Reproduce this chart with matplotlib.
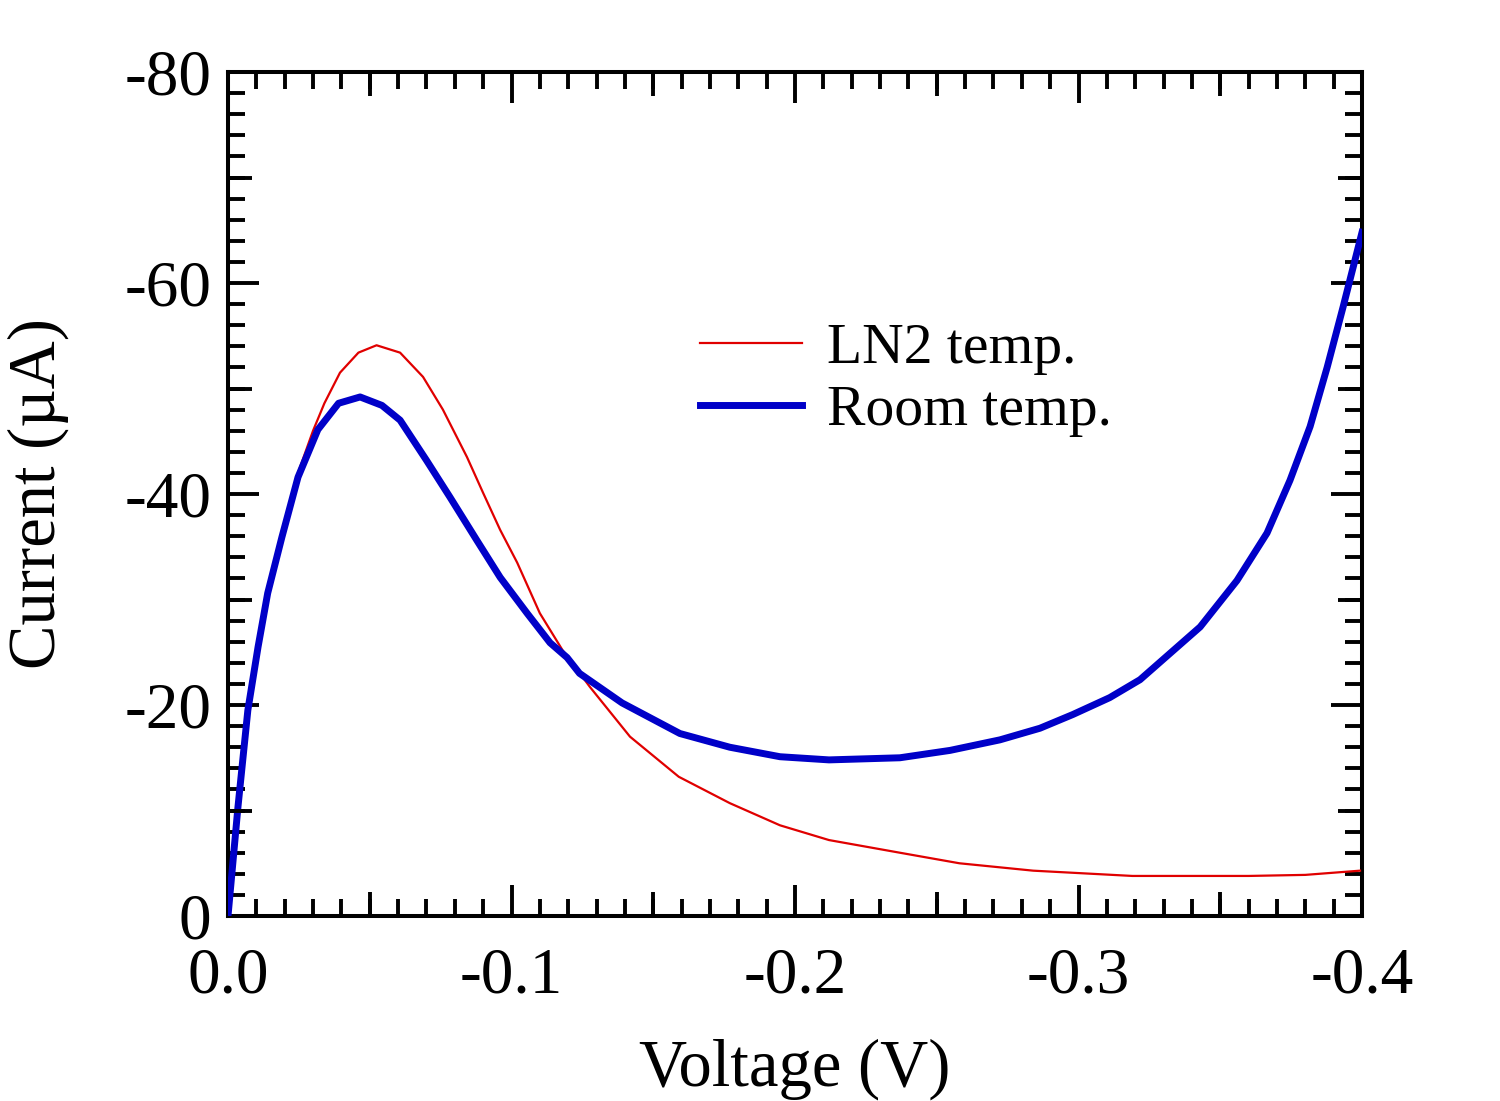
# I-V curves of the tunnel diode at two temperatures

import numpy as np
import matplotlib.pyplot as plt

plt.rcParams['font.family'] = ['Liberation Serif', 'DejaVu Serif']
plt.rcParams['axes.unicode_minus'] = False

# values
v_ln2 = [0.0, -0.0035, -0.007, -0.0106, -0.014, -0.019, -0.0247, -0.030, -0.034,
         -0.0395, -0.046, -0.0524, -0.0607, -0.0688, -0.0758, -0.0843, -0.090,
         -0.096, -0.102, -0.110, -0.118, -0.1277, -0.1418, -0.159, -0.177,
         -0.1947, -0.212, -0.237, -0.258, -0.284, -0.319, -0.360, -0.380, -0.3993]
i_ln2 = [0.0, -9.5, -19.0, -25.0, -30.5, -36.0, -42.0, -46.0, -48.6,
         -51.5, -53.4, -54.1, -53.4, -51.1, -48.0, -43.5, -40.1,
         -36.6, -33.5, -28.7, -25.2, -21.7, -17.0, -13.2, -10.7,
         -8.6, -7.2, -6.0, -5.0, -4.3, -3.8, -3.8, -3.9, -4.3]

v_room = [0.0, -0.0035, -0.007, -0.0106, -0.014, -0.019, -0.0247, -0.0317,
          -0.039, -0.0466, -0.0543, -0.0607, -0.070, -0.0783, -0.0878, -0.096,
          -0.1055, -0.1136, -0.1196, -0.124, -0.139, -0.1594, -0.177, -0.1947,
          -0.212, -0.237, -0.2547, -0.2723, -0.2864, -0.298, -0.311, -0.3217,
          -0.3429, -0.3559, -0.3665, -0.3746, -0.3817, -0.3877, -0.3933, -0.400]
i_room = [0.0, -10.3, -19.5, -25.5, -30.6, -35.9, -41.6, -46.1,
          -48.6, -49.2, -48.4, -47.0, -43.2, -39.7, -35.6, -32.1,
          -28.7, -25.9, -24.5, -23.0, -20.2, -17.3, -16.0, -15.1,
          -14.8, -15.0, -15.7, -16.7, -17.8, -19.1, -20.7, -22.4,
          -27.4, -31.8, -36.3, -41.3, -46.4, -52.0, -57.7, -64.8]

x_major = [0.0, -0.1, -0.2, -0.3, -0.4]
x_labels = ['0.0', '-0.1', '-0.2', '-0.3', '-0.4']
y_major = [0, -20, -40, -60, -80]
y_labels = ['0', '-20', '-40', '-60', '-80']

fs = 47
fig = plt.figure(figsize=(15, 11.01), dpi=100)
ax = fig.add_axes([0.152, 0.168, 0.756, 0.7666])

ax.plot(v_ln2, i_ln2, color='#e00000', lw=1.6, label='LN2 temp.', zorder=3)
ax.plot(v_room, i_room, color='#0000c8', lw=5.0, label='Room temp.', zorder=4)

ax.set_xlim(0, -0.4)
ax.set_ylim(0, -80)
ax.set_xticks(x_major)
ax.set_xticklabels(x_labels)
ax.set_yticks(y_major)
ax.set_yticklabels(y_labels)
ax.set_xticks(np.arange(0, -0.4001, -0.01), minor=True)
ax.set_yticks(np.arange(0, -80.1, -2), minor=True)
ax.tick_params(which='both', direction='in', top=True, right=True, width=2.8,
               labelsize=fs)
ax.tick_params(which='major', length=22)
ax.tick_params(which='minor', length=12)
ax.tick_params(axis='x', pad=22)
ax.tick_params(axis='y', pad=12)
for s in ax.spines.values():
    s.set_linewidth(2.9)

# medium ticks at the halfway marks
ax2 = fig.add_axes(ax.get_position(), frameon=False)
ax2.set_xlim(0, -0.4)
ax2.set_ylim(0, -80)
ax2.set_xticks([-0.05, -0.15, -0.25, -0.35])
ax2.set_yticks([-10, -30, -50, -70])
ax2.tick_params(direction='in', top=True, right=True, length=17, width=2.8,
                labelbottom=False, labelleft=False)
ax2.patch.set_visible(False)

ax.set_xlabel('Voltage (V)', fontsize=fs + 1, labelpad=23)
ax.set_ylabel('Current (µA)', fontsize=fs + 1, labelpad=40)

ax.legend(loc='upper left', bbox_to_anchor=(0.416, 0.703), frameon=False,
          fontsize=41.5, handlelength=1.78, handletextpad=0.43,
          labelspacing=0.17, borderpad=0, borderaxespad=0)

plt.savefig('out.png')
